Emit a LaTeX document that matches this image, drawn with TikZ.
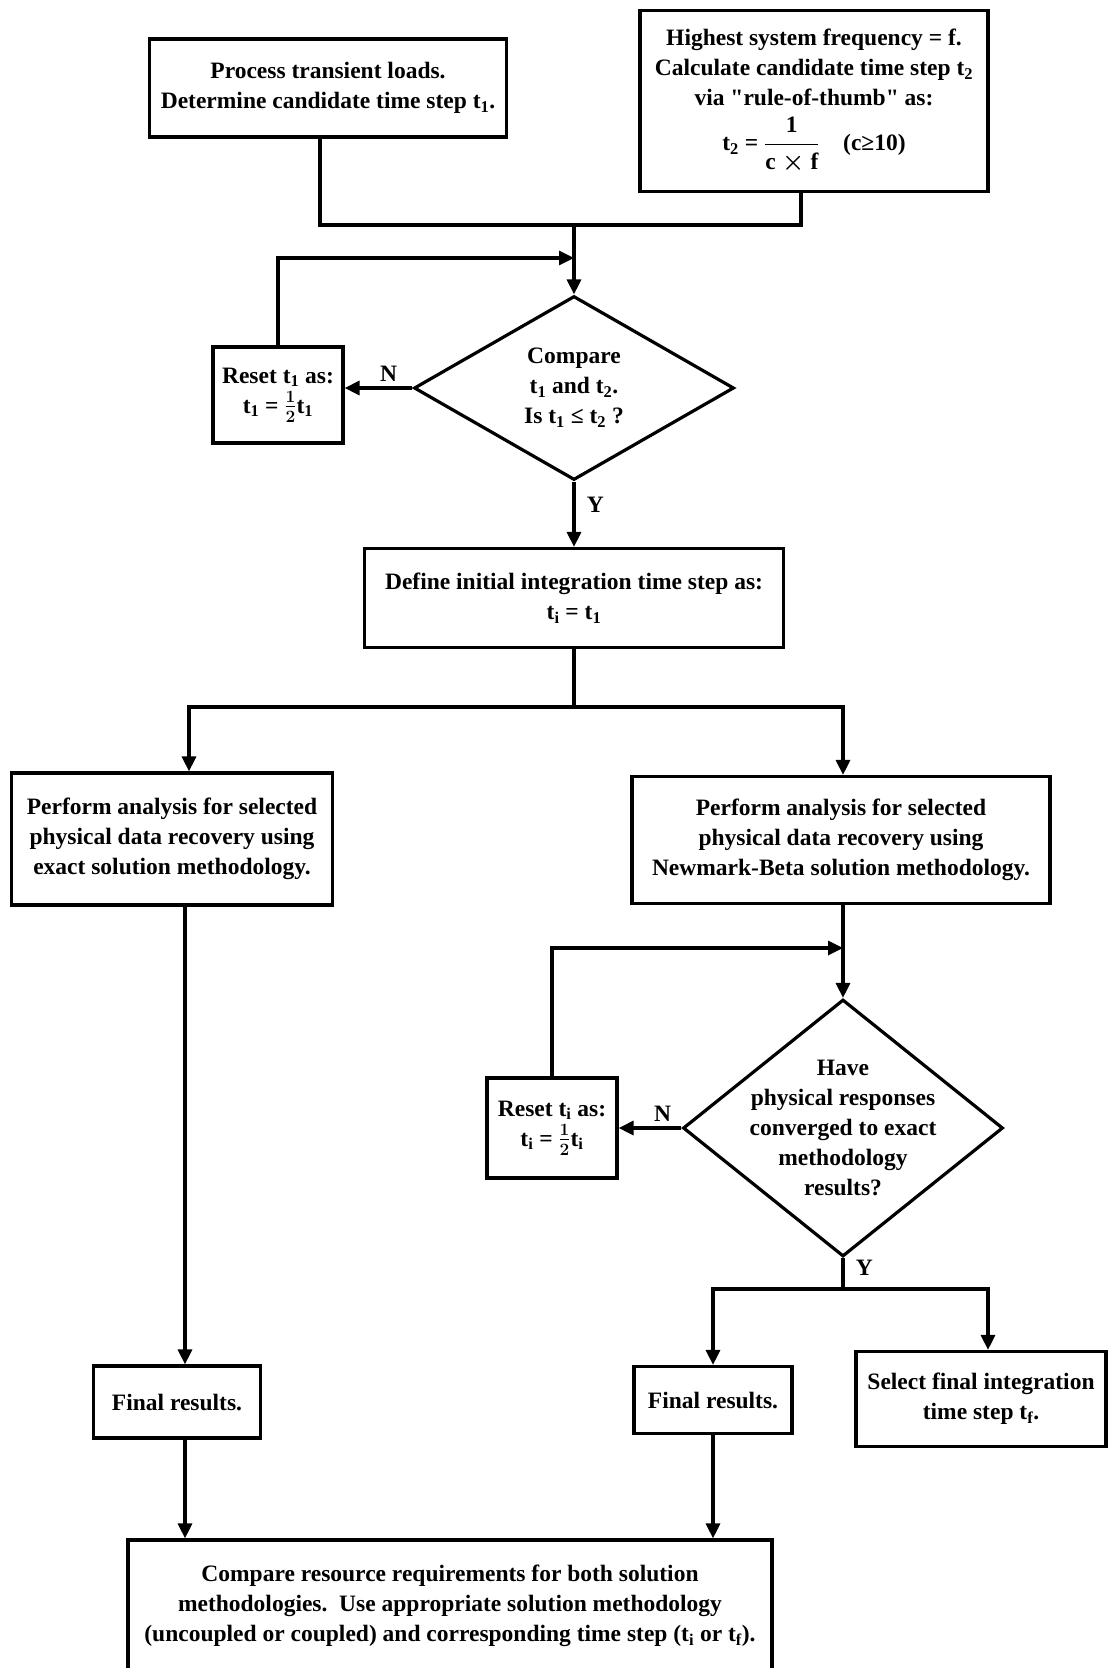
\documentclass[tikz,border=0pt]{standalone}
\usepackage{amsmath}
\usepackage{fontspec}
\setmainfont{Liberation Serif}
\usetikzlibrary{arrows.meta,shapes.geometric}

\begin{document}
\begin{tikzpicture}[->,>={Triangle[length=15pt,width=14pt]},x=1pt,y=-1pt,
        line width=3.2pt,
        base/.style={font=\fontsize{23.5}{30}\selectfont\bfseries\boldmath,align=center},
        box/.style={base,rectangle,draw,inner sep=4pt},
        decision/.style={base,diamond,draw,inner sep=0pt},
        lbl/.style={base}]
    \useasboundingbox (0,0) rectangle (1109,1668);

    % top row
    \node[box,minimum width=357pt,minimum height=98pt] (proc) at (328,88)
        {Process transient loads.\\Determine candidate time step t\textsubscript{1}.};
    \node[box,minimum width=348pt,minimum height=181pt] (freq) at (814,101)
        {Highest system frequency = f.\\Calculate candidate time step t\textsubscript{2}\\via \textquotedbl rule-of-thumb\textquotedbl{} as:\\[10pt]
         t\textsubscript{2} = $\dfrac{\text{1}}{\text{c}\times\text{f}}$\quad (c≥10)};

    % first check
    \node[decision,minimum width=320pt,minimum height=184pt] (comp) at (574,388)
        {Compare\\t\textsubscript{1} and t\textsubscript{2}.\\Is t\textsubscript{1} ≤ t\textsubscript{2} ?};
    \node[box,minimum width=130pt,minimum height=96pt] (reset1) at (278,395)
        {Reset t\textsubscript{1} as:\\t\textsubscript{1} = $\frac{1}{2}$t\textsubscript{1}};
    \node[box,minimum width=419pt,minimum height=99pt] (define) at (574,598)
        {Define initial integration time step as:\\t\textsubscript{i} = t\textsubscript{1}};

    % two branches
    \node[box,minimum width=321pt,minimum height=132pt] (exact) at (172,839)
        {Perform analysis for selected\\physical data recovery using\\exact solution methodology.};
    \node[box,minimum width=418pt,minimum height=127pt] (newmark) at (841,840)
        {Perform analysis for selected\\physical data recovery using\\Newmark-Beta solution methodology.};

    % convergence check
    \node[decision,minimum width=320pt,minimum height=257pt,
        label={[base]center:Have\\physical responses\\converged to exact\\methodology\\results?}] (conv) at (843,1128) {};
    \node[box,minimum width=130pt,minimum height=100pt] (reset2) at (552,1128)
        {Reset t\textsubscript{i} as:\\t\textsubscript{i} = $\frac{1}{2}$t\textsubscript{i}};

    % results
    \node[box,minimum width=167pt,minimum height=72pt] (final1) at (177,1402) {Final results.};
    \node[box,minimum width=158pt,minimum height=67pt] (final2) at (713,1400) {Final results.};
    \node[box,minimum width=250pt,minimum height=95pt] (select) at (981,1399)
        {Select final integration\\time step t\textsubscript{f}.};
    \node[box,minimum width=644pt,minimum height=132pt] (cmp) at (450,1606)
        {Compare resource requirements for both solution\\methodologies.\ \ Use appropriate solution methodology\\(uncoupled or coupled) and corresponding time step (t\textsubscript{i} or t\textsubscript{f}).};

    % junctions
    \coordinate (j1) at (574,225);
    \coordinate (m1) at (574,258);
    \coordinate (j2) at (574,707);
    \coordinate (m2) at (843,948);
    \coordinate (j3) at (843,1289);

    \draw[-] ([xshift=-8pt]proc.south) |- (j1);
    \draw[-] ([xshift=-13pt]freq.south) |- (j1);
    \draw (j1) -- (comp.north);
    \draw (comp.west) -- (comp.west -| reset1.east)
        node[lbl,pos=0.35,above=2pt] {N};
    \draw (reset1.north) |- (m1);
    \draw (comp.south) -- (comp.south |- define.north)
        node[lbl,pos=0.35,right=8pt] {Y};

    \draw[-] (define.south) -- (j2);
    \draw (j2) -| ([xshift=17pt]exact.north);
    \draw (j2) -| (newmark.north -| conv.north);

    \draw (newmark.south -| conv.north) -- (conv.north);
    \draw (conv.west) -- (conv.west -| reset2.east)
        node[lbl,pos=0.3,above=2pt] {N};
    \draw (reset2.north) |- (m2);
    \draw[-] (conv.south) -- (j3)
        node[lbl,pos=0.3,right=8pt] {Y};
    \draw (j3) -| (final2.north);
    \draw (j3) -| ([xshift=7pt]select.north);

    \draw ([xshift=8pt]final1.north |- exact.south) -- ([xshift=8pt]final1.north);
    \draw ([xshift=8pt]final1.south) -- ([xshift=8pt]final1.south |- cmp.north);
    \draw (final2.south) -- (final2.south |- cmp.north);
\end{tikzpicture}
\end{document}
